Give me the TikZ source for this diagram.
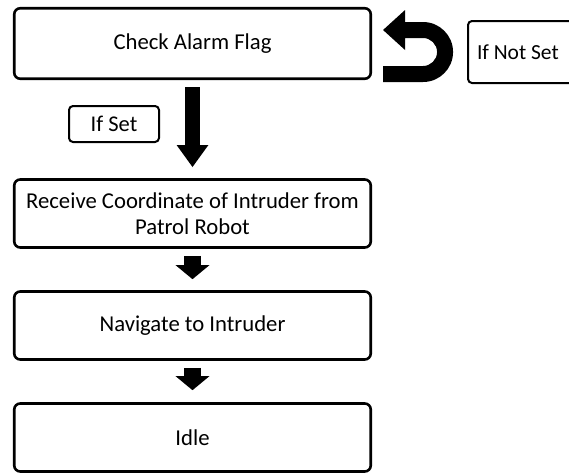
\documentclass[tikz,border=0pt]{standalone}
\usepackage{fontspec}
\setmainfont{Carlito}
\usetikzlibrary{arrows.meta}

\begin{document}
\begin{tikzpicture}[x=1pt,y=1pt,
		stepbox/.style={draw, line width=2.6pt, rounded corners=6pt, minimum width=356.5pt, minimum height=68pt, inner sep=0pt, align=center, font=\fontsize{22.7}{26}\selectfont},
		tagbox/.style={draw, line width=2pt, rounded corners=4pt, inner sep=0pt, font=\fontsize{22.5}{26}\selectfont},
		bigarrow/.style={line width=15pt, -{Triangle[length=22pt,width=30pt]}},
		smallarrow/.style={line width=17pt, -{Triangle[length=14pt,width=33pt]}}]
			\useasboundingbox (0,0) rectangle (569,-474);
			\node[stepbox, minimum height=70.5pt] (check) at (192.5,-43.5) {Check Alarm Flag};
			\node[stepbox] (receive) at (192.5,-213.5) {Receive Coordinate of Intruder from\\Patrol Robot};
			\node[stepbox] (navigate) at (192.5,-325.5) {Navigate to Intruder};
			\node[stepbox] (idle) at (192.5,-437.5) {Idle};
			\node[tagbox, minimum width=90pt, minimum height=36pt] (ifset) at (114,-124) {If Set};
			\node[tagbox, font=\fontsize{21.5}{26}\selectfont, anchor=west, minimum height=62pt] (ifnotset) at (467,-52) {\makebox[130pt][l]{\hspace{9pt}If Not Set}};
			\draw[bigarrow, shorten <=7pt, shorten >=11pt] (check.south) -- (receive.north);
			\draw[smallarrow, shorten <=7pt, shorten >=11pt] (receive.south) -- (navigate.north);
			\draw[smallarrow, shorten <=7pt, shorten >=12pt] (navigate.south) -- (idle.north);
			\coordinate (uturn) at (check.east);
			\fill[shift={(uturn)}, yshift=43.5pt, xshift=-372pt] (383,-30) -- (405,-10) -- (405,-22) -- (423,-22) arc[start angle=90, end angle=-90, radius=30] -- (383,-82) -- (383,-66) -- (423,-66) arc[start angle=-90, end angle=90, radius=14] -- (405,-38) -- (405,-50) -- cycle;
		\end{tikzpicture}
\end{document}
